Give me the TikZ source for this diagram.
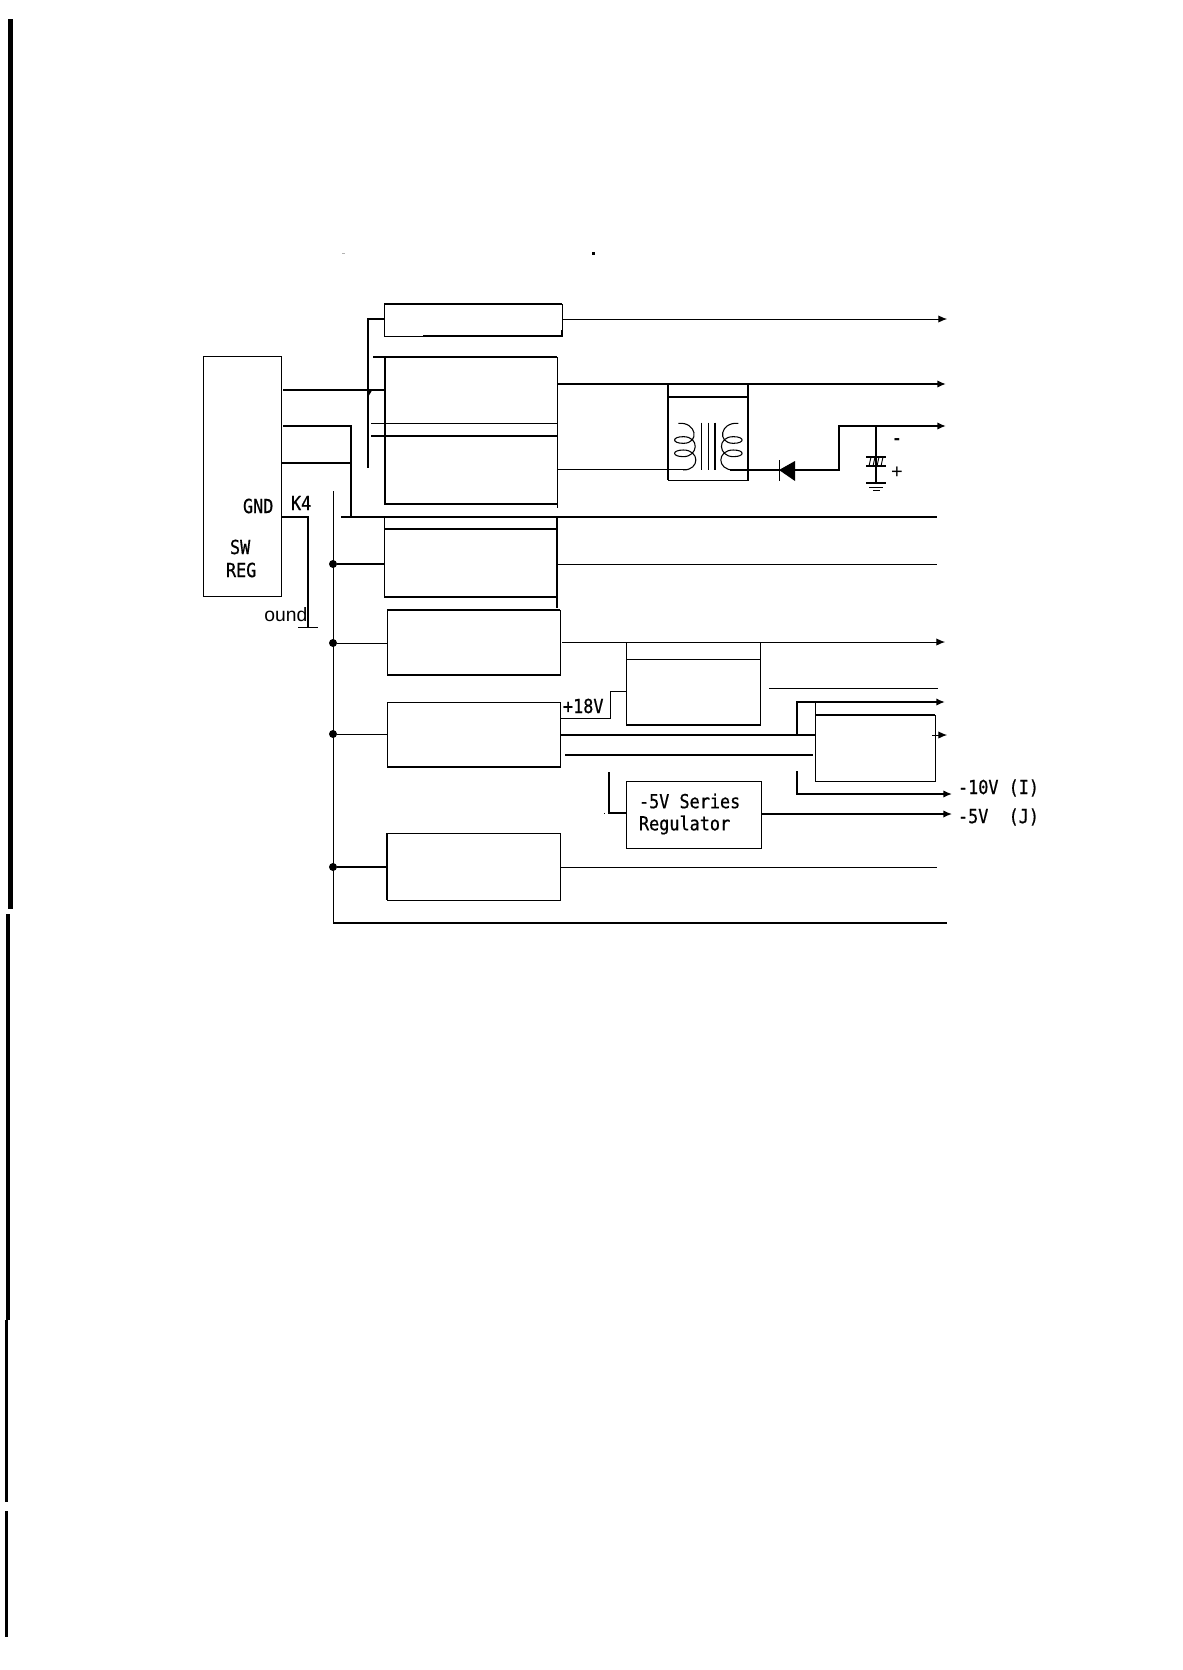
\documentclass[tikz,border=0pt]{standalone}
\usepackage{fontspec}
\usetikzlibrary{arrows.meta}
\newfontfamily\labfont[FakeStretch=0.87,FakeBold=0.6]{DejaVu Sans Mono}
\newfontfamily\sansfont{Liberation Sans}
% \mkbox{name}{x1}{y1}{x2}{y2}: rectangle given by its corners in reference pixels
\newcommand\mkbox[5]{\node[plainbox,anchor=north west,minimum width={(#4-#2)*0.75pt},minimum height={(#5-#3)*0.75pt}] (#1) at (#2,#3) {};}
\tikzset{
  plainbox/.style={draw,line width=0.75pt,inner sep=0pt,outer sep=0pt},
  fine/.style={line width=0.7pt},
  heavy/.style={line width=1.6pt},
  arr/.style={-{Latex[length=6.5pt,width=5.5pt]}},
  lab/.style={inner sep=0pt,outer sep=0pt,anchor=west,font=\labfont\fontsize{14.5pt}{18pt}\selectfont},
  joint/.style={circle,fill,inner sep=0pt,minimum width=6pt,minimum height=5.5pt},
  coilline/.style={line width=0.8pt}
}
\begin{document}
\begin{tikzpicture}[x=0.75pt,y=-0.75pt]
\useasboundingbox (0,0) rectangle (1182,1670);
\fill[white] (0,0) rectangle (1182,1670);
% page-edge bars and specks
\fill (8,19) rectangle (13,909);
\fill (6,914) rectangle (10,1320);
\fill (5,1320) rectangle (8,1502);
\fill (5,1511) rectangle (8,1637);
\fill[gray!60] (342,252.5) rectangle (345,254);
\fill (592,252) rectangle (595,255);
\fill (603.5,812.5) rectangle (605,814);
% boxes
\mkbox{sw}{203}{356}{281}{596}
\mkbox{A}{384}{304}{562}{336}
\mkbox{B}{385}{357}{557}{504}
\mkbox{C}{384}{529}{557}{597}
\mkbox{D}{387}{610}{560}{675}
\mkbox{E}{387}{702}{560}{767}
\mkbox{F}{626}{659}{760}{725}
\mkbox{G}{815}{715}{935}{781}
\mkbox{H}{387}{833}{560}{900}
\mkbox{T}{668}{397}{748}{480}
\mkbox{R}{626}{781}{761}{848}
% heavier box edges and stubs
\draw[heavy] (A.north west) -- (A.north east);
\draw[heavy] (A.south west) ++(39,0) -- (A.south east) -- ++(0,-6);
\draw[heavy] (B.north west) ++(-12,0) -- (B.north east);
\draw[heavy] (B.north west) -- (B.south west) -- (B.south east);
\draw[fine] (B.south east) -- ++(0,4);
\draw[heavy] (C.north west) -- (C.north east);
\draw[fine] (C.north west) -- ++(0,-12);
\draw[heavy] (C.north east) ++(0,-12) -- ++(0,91);
\draw[heavy] (C.south west) -- (C.south east);
\draw[heavy] (D.north west) -- (D.north east);
\draw[heavy] (D.south west) -- (D.south east);
\draw[heavy] (E.south west) -- (E.south east);
\draw[heavy] (H.north west) -- (H.south west);
\draw[heavy] (F.south west) -- (F.south east);
\draw[fine] (F.north west) ++(0,-17) -- ++(0,77);
\draw[fine] (F.north east) ++(0,-17) -- ++(0,74);
\draw[heavy] (T.north west) -- ++(0,-13);
\draw[heavy] (T.north east) -- ++(0,-13);
\draw[heavy] (T.north west) -- (T.south west) (T.north east) -- (T.south east);
\draw[heavy] (T.north west) -- (T.north east);
\draw[heavy] (G.north west) -- (G.north east);
\draw[fine] (G.north west) -- ++(0,-12);
% named junctions and free ends
\coordinate (jAin) at (368,319);
\coordinate (jAend) at (368,468);
\coordinate (jV) at (351,426);
\coordinate (jVb) at (351,517);
\coordinate (busL) at (341,517);
\coordinate (busR) at (937,517);
\coordinate (k4) at (308,517);
\coordinate (gnd) at (308,627);
\coordinate (vtop) at (333,491);
\coordinate (vbot) at (333,923);
\coordinate (vend) at (947,923);
\node[joint] (d1) at (333,564) {};
\node[joint] (d2) at (333,643) {};
\node[joint] (d3) at (333,734) {};
\node[joint] (d4) at (333,867) {};
\coordinate (oA) at (947,319);
\coordinate (oB) at (946,384);
\coordinate (oC) at (937,564);
\coordinate (oD) at (945,642);
\coordinate (oH) at (937,867);
\coordinate (oG) at (947,735);
% left side wiring
\draw[line width=1pt] (A.west |- jAin) -- (jAin) -- (jAend);
\draw[fine,arr] (A.east |- jAin) -- (oA);
\draw[heavy] (283,390) -- (B.west |- 0,390);
\draw[heavy] (368,395) -- (371,390);
\draw[line width=0.5pt] (371,423) -- (B.east |- 0,423);
\draw[heavy] (371,436) -- (B.east |- 0,436);
\draw[heavy] (283,426) -- (jV) -- (jVb);
\draw[heavy] (sw.east |- 0,463) -- (jV |- 0,463);
\draw[heavy] (busL) -- (busR);
\draw[line width=1.1pt] (sw.east |- k4) -- (k4) -- (gnd);
\draw[fine] (298,627) -- (318,627);
\draw[fine] (vtop) -- (vbot);
\draw[heavy] (vbot) -- (vend);
\draw[heavy] (d1) -- (C.west |- d1);
\draw[fine] (d2) -- (D.west |- d2);
\draw[fine] (d3) -- (E.west |- d3);
\draw[heavy] (d4) -- (H.west |- d4);
% right side wiring
\draw[heavy,arr] (B.east |- oB) -- (oB);
\draw[fine] (C.east |- oC) -- (oC);
\draw[fine,arr] (562,642) -- (oD);
\draw[fine] (H.east |- oH) -- (oH);
\draw[fine] (E.east |- 0,718) -- (610,718) -- (610,691) -- (F.west |- 0,691);
\draw[heavy] (E.east |- 0,735) -- (G.west |- 0,735);
\draw[heavy] (565,755) -- (813,755);
\draw[fine] (769,688) -- (938,688);
\draw[heavy,arr] (797,735) -- (797,702) -- (945,702);
\draw[fine,arr] (932,735) -- (oG);
\draw[line width=1.1pt,arr] (797,771) -- (797,794) -- (952,794);
\draw[line width=1pt] (R.west |- 0,813) -- (609,813) -- (609,772);
\draw[line width=1pt,arr] (R.east |- 0,814) -- (952,814);
% transformer
\draw[fine] (B.east |- 0,469) -- (687,469);
\begin{scope}[shift={(550,280)},x=0.25pt,y=-0.25pt,coilline]
  \draw (385,430) .. controls (440,425) and (450,490) .. (400,490)
        .. controls (365,490) and (365,470) .. (400,470)
        .. controls (450,470) and (445,530) .. (400,530)
        .. controls (365,530) and (365,510) .. (400,510)
        .. controls (450,510) and (450,570) .. (400,570);
  \draw (565,430) .. controls (510,425) and (500,490) .. (550,490)
        .. controls (585,490) and (585,470) .. (550,470)
        .. controls (500,470) and (505,530) .. (550,530)
        .. controls (585,530) and (585,510) .. (550,510)
        .. controls (500,510) and (500,570) .. (550,570);
  \draw (455,428) -- (455,570) (475,428) -- (475,570) (495,428) -- (495,570);
\end{scope}
% diode and output
\coordinate (dk) at (779,470);
\coordinate (da) at (795,470);
\coordinate (kink) at (839,470);
\coordinate (ktop) at (839,426);
\coordinate (oK) at (946,426);
\coordinate (capt) at (876,426);
\coordinate (capb) at (876,483);
\draw[heavy] (730,470) -- (dk);
\fill (dk) -- (795,461) -- (795,481) -- cycle;
\draw[fine] (779,460) -- (779,481);
\draw[heavy,arr] (da) -- (kink) -- (ktop) -- (oK);
\draw[line width=1.1pt] (capt) -- (capb);
\draw[heavy] (866,457) -- (886,457) (866,466) -- (886,466);
\draw[fine] (869,466) -- (871,457) (873,466) -- (875,457) (877,466) -- (879,457) (881,466) -- (883,457);
\draw[heavy] (866,483) -- (886,483);
\draw[fine] (869,487) -- (883,487) (873,490) -- (880,490);
\node[inner sep=0pt,font=\sansfont\bfseries\fontsize{14pt}{16pt}\selectfont] (minus) at (897,442) {-};
\node[inner sep=0pt,font=\sansfont\fontsize{15pt}{16pt}\selectfont] (plus) at (897,473) {+};
% labels
\node[lab] (lgnd) at (243,506) {GND};
\node[lab] (lk4) at (291,503) {K4};
\node[lab] (lsw) at (230,547) {SW};
\node[lab] (lreg) at (226,570) {REG};
\node[inner sep=0pt,anchor=west,font=\sansfont\fontsize{14.5pt}{16pt}\selectfont] (lound) at (264,615) {ound};
\node[lab] (l18) at (563,706) {+18V};
\node[lab] (lser) at (639,801) {-5V Series};
\node[lab] (lreg2) at (639,825) {Regulator};
\node[lab] (l10) at (958,788) {-10V (I)};
\node[lab] (l5) at (958,817) {-5V\ \ (J)};
\end{tikzpicture}
\end{document}
